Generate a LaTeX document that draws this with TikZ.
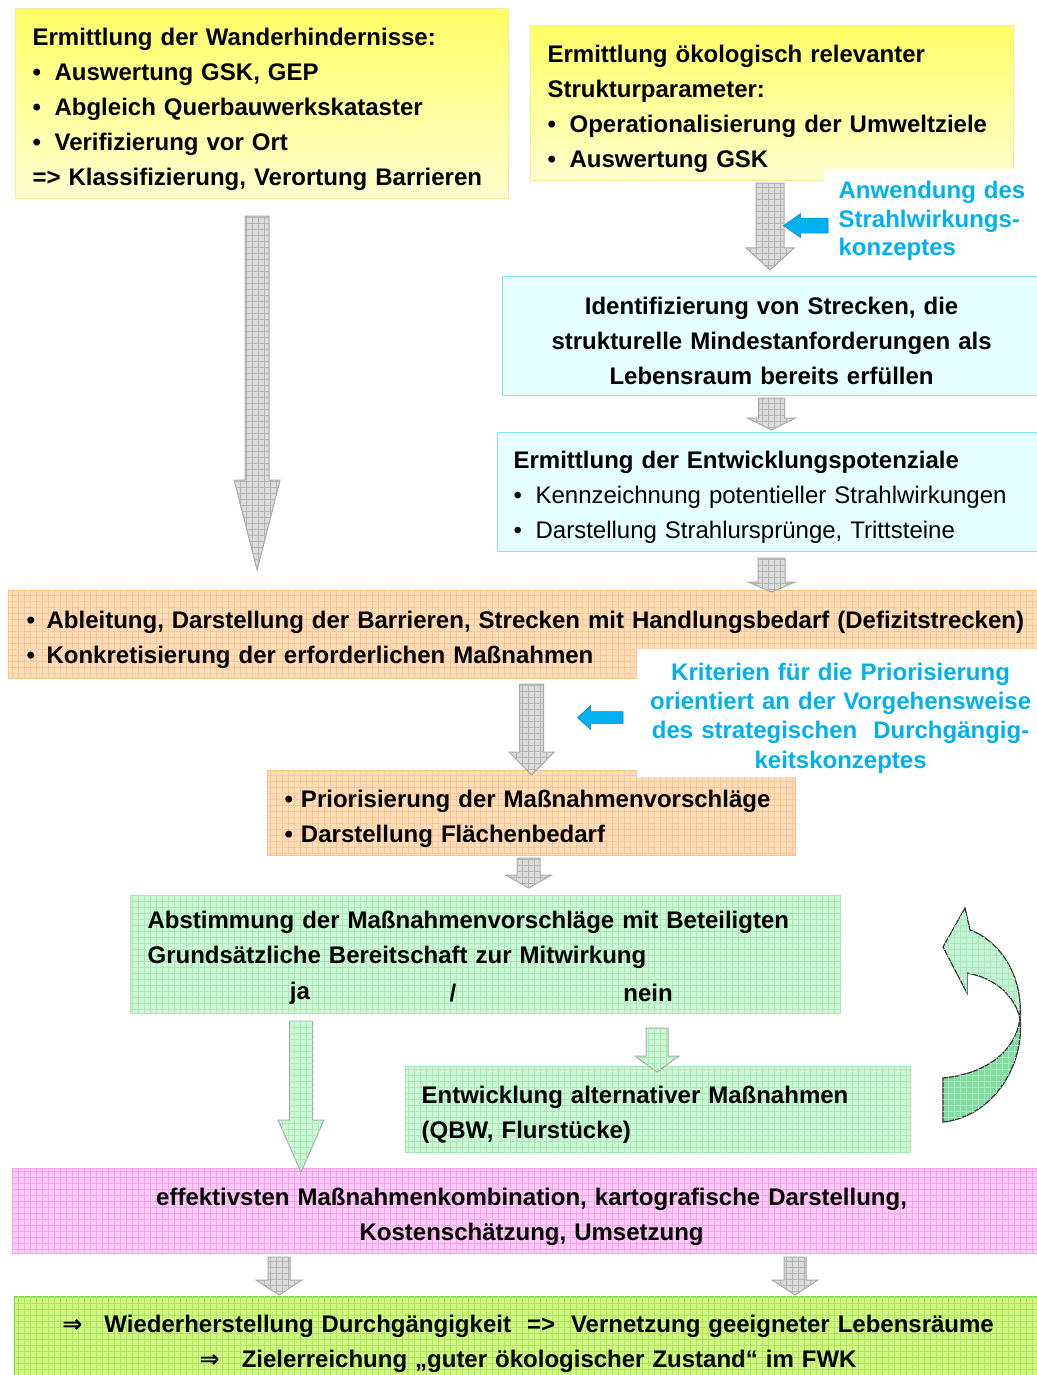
\documentclass[tikz,border=0pt]{standalone}
\usepackage{fontspec}
\setmainfont{Liberation Sans}
\newfontfamily\pfeilfont{DejaVu Sans}
\usetikzlibrary{calc,patterns}
\tikzset{>=latex}

\definecolor{gelboben}{HTML}{FFFF66}
\definecolor{gelbunten}{HTML}{FFFFD0}
\definecolor{gelbrand}{HTML}{F2EC9A}
\definecolor{tuerkisfill}{HTML}{E6FFFF}
\definecolor{tuerkisrand}{HTML}{80E6EE}
\definecolor{orangefill}{HTML}{FFDDB6}
\definecolor{orangegitter}{HTML}{F4C79C}
\definecolor{orangerand}{HTML}{F7C47E}
\definecolor{gruenfill}{HTML}{CDFAD4}
\definecolor{gruengitter}{HTML}{A9E8B8}
\definecolor{gruenrand}{HTML}{9DEBB0}
\definecolor{pinkfill}{HTML}{FFCAFA}
\definecolor{pinkgitter}{HTML}{EEA8E6}
\definecolor{pinkrand}{HTML}{FF9DEE}
\definecolor{limefill}{HTML}{CFFA80}
\definecolor{limegitter}{HTML}{B3E06A}
\definecolor{limerand}{HTML}{6FDD3A}
\definecolor{blau}{HTML}{00B0F0}
\definecolor{graufill}{HTML}{DCDCDC}
\definecolor{graugitter}{HTML}{B2B2B2}
\definecolor{graurand}{HTML}{A8A8A8}
\definecolor{mintoben}{HTML}{C4F2D4}
\definecolor{mintunten}{HTML}{80DCA2}

\tikzset{
  box/.style={anchor=north west, inner ysep=0pt, align=left, line width=0.6pt,
    font=\bfseries\fontsize{12}{17.5}\selectfont,
    execute at begin node={\rule{0pt}{14pt}}},
  gitter/.style={postaction={pattern=grid, pattern color=#1}},
  gelb/.style={draw=gelbrand, top color=gelboben, bottom color=gelbunten},
  tuerkis/.style={draw=tuerkisrand, fill=tuerkisfill},
  orange/.style={draw=orangerand, fill=orangefill, gitter=orangegitter},
  gruen/.style={draw=gruenrand, fill=gruenfill, gitter=gruengitter},
  pink/.style={draw=pinkrand, fill=pinkfill, gitter=pinkgitter},
  lime/.style={draw=limerand, fill=limefill, gitter=limegitter},
  hinweis/.style={fill=white, text=blau},
  wort/.style={inner sep=0pt, font=\bfseries\fontsize{12}{17.5}\selectfont},
  grau/.style={draw=graurand, fill=graufill, gitter=graugitter, line width=0.5pt},
  gpfeil/.style={draw=gray!70, fill=gruenfill, gitter=gruengitter, line width=0.5pt},
  bpfeil/.style={fill=blau, draw=blau!80!black, line width=0.3pt},
  mint/.style={draw=black!80, line width=0.6pt, gitter=gruengitter}
}

% block arrow downwards: style, start, tip, shaft half, head half, head length
\newcommand\blockarrow[6][grau]{%
  \path[#1] let \p1=#2, \p2=#3 in
    (\x1-#4,\y1) -- (\x1-#4,\y2+#6) -- (\x1-#5,\y2+#6) -- (\x1,\y2)
    -- (\x1+#5,\y2+#6) -- (\x1+#4,\y2+#6) -- (\x1+#4,\y1) -- cycle;}
% block arrow to the left
\newcommand\sidearrow[6][bpfeil]{%
  \path[#1] let \p1=#2, \p2=#3 in
    (\x1,\y1-#4) -- (\x2+#6,\y1-#4) -- (\x2+#6,\y1-#5) -- (\x2,\y1)
    -- (\x2+#6,\y1+#5) -- (\x2+#6,\y1+#4) -- (\x1,\y1+#4) -- cycle;}
\newcommand\bul{\makebox[11pt][l]{\textbullet}}

\begin{document}
\begin{tikzpicture}[x=0.5pt,y=-0.5pt]
\useasboundingbox (0,0) rectangle (1037,1375);

% first row
\node[box,gelb,inner xsep=8.5pt,text width=229.5pt,minimum height=95pt] (wander) at (15,8)
  {Ermittlung der Wanderhindernisse:\\
   \bul Auswertung GSK, GEP\\
   \bul Abgleich Querbauwerkskataster\\
   \bul Verifizierung vor Ort\\
   => Klassifizierung, Verortung Barrieren};
\node[box,gelb,inner xsep=8.5pt,text width=224.5pt,minimum height=77.5pt] (struk) at (530,25)
  {Ermittlung ökologisch relevanter\\
   Strukturparameter:\\
   \bul Operationalisierung der Umweltziele\\
   \bul Auswertung GSK};
\node[box,hinweis,inner xsep=7.5pt,text width=100pt,minimum height=47pt,
  font=\bfseries\fontsize{12}{14.25}\selectfont] (anwend) at (823,168)
  {Anwendung des\\Strahlwirkungs-\\konzeptes};

% right column
\node[box,tuerkis,align=center,inner xsep=8pt,text width=253pt,minimum height=59.5pt] (ident) at (502,276)
  {Identifizierung von Strecken, die\\
   strukturelle Mindestanforderungen als\\
   Lebensraum bereits erfüllen};
\node[box,tuerkis,inner xsep=8pt,text width=258pt,minimum height=59.5pt] (potenz) at (497,432)
  {Ermittlung der Entwicklungspotenziale\\
   {\mdseries\bul Kennzeichnung potentieller Strahlwirkungen}\\
   {\mdseries\bul Darstellung Strahlursprünge, Trittsteine}};

% measures
\node[box,orange,inner xsep=9pt,text width=503pt,minimum height=44pt] (ableit) at (8,590)
  {\makebox[10pt][l]{\textbullet}Ableitung, Darstellung der Barrieren, Strecken mit Handlungsbedarf (Defizitstrecken)\\
   \makebox[10pt][l]{\textbullet}Konkretisierung der erforderlichen Maßnahmen};
\node[box,orange,inner xsep=8.5pt,text width=247pt,minimum height=42.5pt] (prior) at (267,770)
  {\textbullet\ Priorisierung der Maßnahmenvorschläge\\
   \textbullet\ Darstellung Flächenbedarf};
\node[box,hinweis,align=center,inner xsep=4pt,text width=196pt,minimum height=64pt,
  font=\bfseries\fontsize{12}{14.65}\selectfont] (krit) at (636,648)
  {Kriterien für die Priorisierung\\
   orientiert an der Vorgehensweise\\
   des strategischen\ \ Durchgängig-\\
   keitskonzeptes};

% agreement
\node[box,gruen,inner xsep=8.5pt,text width=338pt,minimum height=59pt] (abstim) at (130,895)
  {Abstimmung der Maßnahmenvorschläge mit Beteiligten\\
   Grundsätzliche Bereitschaft zur Mitwirkung\\
   \strut};
\node[wort] (ja) at (300,993) {ja};
\node[wort] (slash) at (453,993) {/};
\node[wort] (nein) at (648,993) {nein};
\node[box,gruen,inner xsep=8pt,text width=236.5pt,minimum height=43pt] (altern) at (405,1066)
  {Entwicklung alternativer Maßnahmen\\
   (QBW, Flurstücke)};

% result
\node[box,pink,align=center,inner xsep=8pt,text width=503pt,minimum height=42.5pt] (umsetz) at (12,1168)
  {effektivsten Maßnahmenkombination, kartografische Darstellung,\\
   Kostenschätzung, Umsetzung};
\node[box,lime,align=center,inner xsep=8pt,text width=497.5pt,minimum height=42pt] (ziel) at (14,1296)
  {{\pfeilfont ⇒}\hspace{11pt}Wiederherstellung Durchgängigkeit\ \ =>\ \ Vernetzung geeigneter Lebensräume\\
   {\pfeilfont ⇒}\hspace{11pt}Zielerreichung „guter ökologischer Zustand“ im FWK};

% gray arrows
\blockarrow{($(wander.south)+(-5,17)$)}{($(ableit.north)+(0,-20)$)}{6pt}{11.5pt}{45pt}
\blockarrow{($(struk.south)+(-2,2)$)}{($(ident.north)+(0,-6)$)}{7pt}{12pt}{11pt}
\blockarrow{($(ident.south)+(0,2)$)}{($(potenz.north)+(0,-2)$)}{6.5pt}{12pt}{6pt}
\blockarrow{($(potenz.south -| ident.south)+(0,6)$)}{($(ableit.north)+(0,2)$)}{6.75pt}{11.75pt}{5pt}
\blockarrow{($(ableit.south -| prior.north)+(0,5)$)}{($(prior.north)+(0,5)$)}{6pt}{11.25pt}{11.5pt}
\blockarrow{($(prior.south)+(-3,2)$)}{($(abstim.north)+(0,-7)$)}{5.75pt}{11.5pt}{6.5pt}
\blockarrow{($(umsetz.south west)+(267,3)$)}{($(ziel.north)+(0,-1)$)}{5.5pt}{11.5pt}{7.5pt}
\blockarrow{($(umsetz.south west)+(783,3)$)}{($(ziel.north)+(0,-1)$)}{5.5pt}{11.5pt}{7.5pt}

% green arrows
\blockarrow[gpfeil]{($(ja |- abstim.south)+(1,7)$)}{($(umsetz.north)+(0,4)$)}{5.75pt}{11.5pt}{26pt}
\blockarrow[gpfeil]{($(nein |- abstim.south)+(9,14)$)}{($(altern.north)+(0,6)$)}{5.5pt}{11pt}{8pt}

% blue arrows
\sidearrow{($(anwend.west)+(5,10)$)}{($(struk.south)+(11.5,0)$)}{3.75pt}{6pt}{8.5pt}
\sidearrow{($(krit.west)+(-13,5)$)}{($(prior.north)+(46,0)$)}{3pt}{6pt}{6.5pt}

% loop back
\path[mint,fill=mintunten] (943,1078) .. controls (985,1074) and (1016,1052) .. (1020,1018)
  .. controls (1025,1066) and (992,1117) .. (943,1122) -- cycle;
\path[mint,fill=mintoben] (1020,1018) .. controls (1023,978) and (1002,942) .. (970,930)
  -- (965,908) -- (943,947) -- (967,993) -- (967,973)
  .. controls (995,978) and (1014,995) .. (1020,1018) -- cycle;
\end{tikzpicture}
\end{document}
